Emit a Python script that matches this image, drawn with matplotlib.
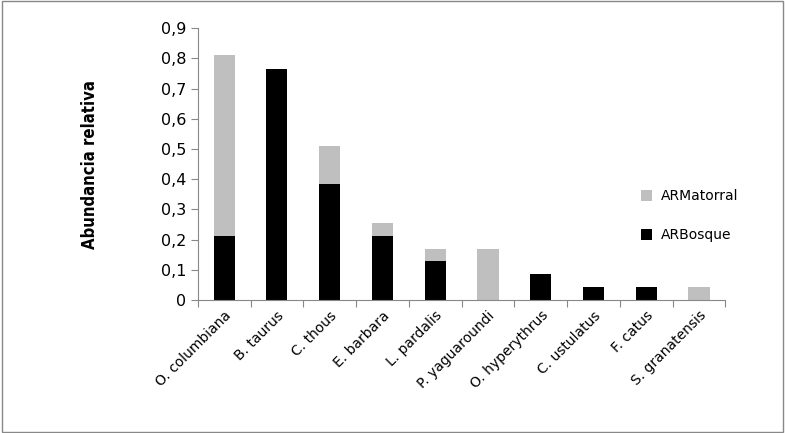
import matplotlib
matplotlib.use("Agg")
import matplotlib.pyplot as plt
import numpy as np
from matplotlib.patches import Rectangle

categories = ["O. columbiana", "B. taurus", "C. thous", "E. barbara", "L. pardalis",
              "P. yaguaroundi", "O. hyperythrus", "C. ustulatus", "F. catus", "S. granatensis"]
bosque = [0.213, 0.766, 0.383, 0.213, 0.128, 0.0, 0.085, 0.043, 0.043, 0.0]
matorral = [0.597, 0.0, 0.127, 0.042, 0.042, 0.17, 0.0, 0.0, 0.0, 0.043]
yticks = [0, 0.1, 0.2, 0.3, 0.4, 0.5, 0.6, 0.7, 0.8, 0.9]
ylabels = ["0", "0,1", "0,2", "0,3", "0,4", "0,5", "0,6", "0,7", "0,8", "0,9"]

fig = plt.figure(figsize=(7.85, 4.33), dpi=100)
fig.patches.append(Rectangle((0.003, 0.003), 0.994, 0.994, transform=fig.transFigure,
                             fill=False, edgecolor="#888888", lw=1))
ax = fig.add_axes([0.252, 0.307, 0.672, 0.628])
x = np.arange(len(categories))
ax.bar(x, bosque, width=0.4, color="black", label="ARBosque")
ax.bar(x, matorral, width=0.4, bottom=bosque, color="#bfbfbf", label="ARMatorral")
ax.set_xlim(-0.5, len(categories) - 0.5)
ax.set_ylim(0, 0.9)
ax.set_yticks(yticks)
ax.set_yticklabels(ylabels, fontsize=11.5)
ax.set_xticks(np.arange(-0.5, len(categories), 1), minor=False)
ax.set_xticklabels([])
ax.set_xticks(x, minor=True)
ax.set_xticklabels(categories, minor=True, rotation=45, ha="right", rotation_mode="anchor", fontsize=10)
ax.tick_params(axis="x", which="minor", length=0, pad=6)
ax.tick_params(axis="x", which="major", length=5, direction="out", color="#888888")
ax.tick_params(axis="y", length=5, color="#888888")
for s in ["top", "right"]:
    ax.spines[s].set_visible(False)
for s in ["left", "bottom"]:
    ax.spines[s].set_color("#888888")
fig.text(0.115, 0.62, "Abundancia relativa", rotation=90, ha="center", va="center",
         fontsize=12, fontweight="bold", family=["Liberation Sans Narrow", "DejaVu Sans"],
         fontstretch="condensed")
h, l = ax.get_legend_handles_labels()
ax.legend(h[::-1], l[::-1], loc="center left", bbox_to_anchor=(0.83, 0.16, 0.3, 0.3),
          frameon=False, handlelength=0.8, handleheight=0.8, labelspacing=1.8, fontsize=10,
          borderaxespad=0, handletextpad=0.6)
fig.savefig("out.png", dpi=100)
